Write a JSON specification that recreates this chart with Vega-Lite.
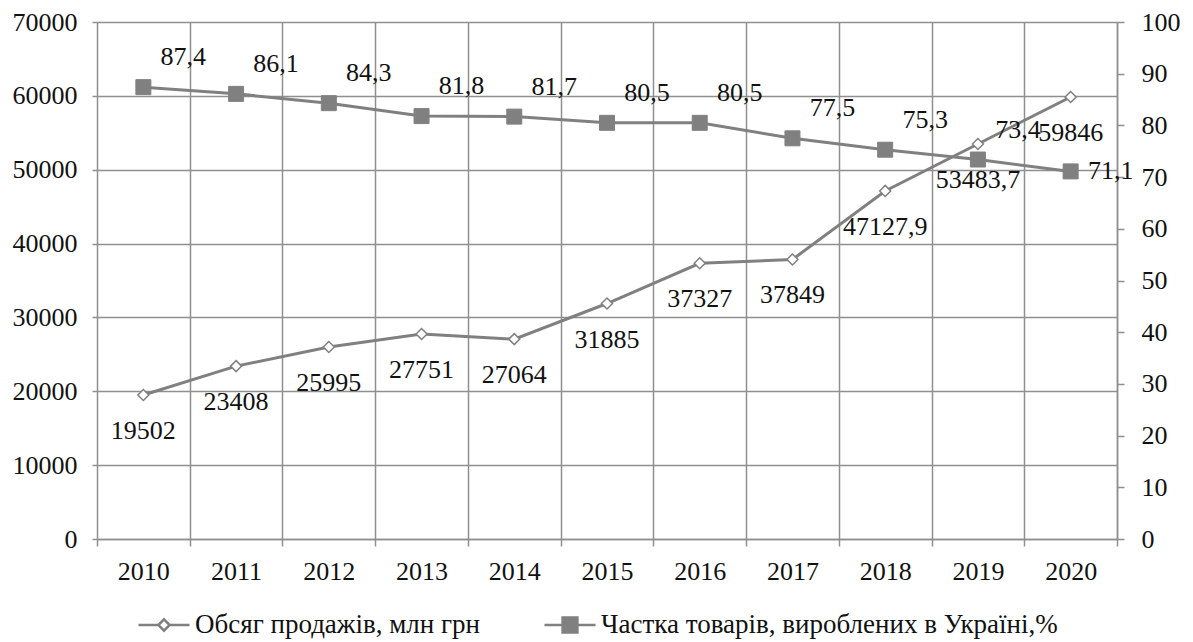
{
  "$schema": "https://vega.github.io/schema/vega-lite/v6.json",
  "width": 1020,
  "height": 517,
  "autosize": "none",
  "padding": {"left": 97, "top": 22, "right": 76, "bottom": 103},
  "background": "white",
  "config": {
    "locale": {"number": {"decimal": ",", "thousands": "", "grouping": [3], "currency": ["", ""]}},
    "view": {"stroke": null},
    "font": "Liberation Serif",
    "axis": {
      "labelFont": "Liberation Serif",
      "labelFontSize": 26,
      "labelColor": "#111111",
      "gridColor": "#8f8f8f",
      "gridWidth": 1.5,
      "domainColor": "#8f8f8f",
      "domainWidth": 1.5,
      "tickColor": "#8f8f8f",
      "tickWidth": 1.5,
      "title": null
    },
    "legend": {
      "title": null,
      "orient": "none",
      "legendX": 40,
      "legendY": 576,
      "direction": "horizontal",
      "columns": 2,
      "columnPadding": 58,
      "labelFont": "Liberation Serif",
      "labelFontSize": 27,
      "labelColor": "#111111",
      "labelLimit": 800,
      "labelOffset": 4,
      "symbolSize": 2601,
      "symbolStrokeWidth": 2.5,
      "symbolOpacity": 1
    }
  },
  "data": {
    "values": [
      {"year": "2010", "series": "Обсяг продажів, млн грн", "value": 19502},
      {"year": "2011", "series": "Обсяг продажів, млн грн", "value": 23408},
      {"year": "2012", "series": "Обсяг продажів, млн грн", "value": 25995},
      {"year": "2013", "series": "Обсяг продажів, млн грн", "value": 27751},
      {"year": "2014", "series": "Обсяг продажів, млн грн", "value": 27064},
      {"year": "2015", "series": "Обсяг продажів, млн грн", "value": 31885},
      {"year": "2016", "series": "Обсяг продажів, млн грн", "value": 37327},
      {"year": "2017", "series": "Обсяг продажів, млн грн", "value": 37849},
      {"year": "2018", "series": "Обсяг продажів, млн грн", "value": 47127.9},
      {"year": "2019", "series": "Обсяг продажів, млн грн", "value": 53483.7},
      {"year": "2020", "series": "Обсяг продажів, млн грн", "value": 59846},
      {"year": "2010", "series": "Частка товарів, вироблених в Україні,%", "value": 87.4},
      {"year": "2011", "series": "Частка товарів, вироблених в Україні,%", "value": 86.1},
      {"year": "2012", "series": "Частка товарів, вироблених в Україні,%", "value": 84.3},
      {"year": "2013", "series": "Частка товарів, вироблених в Україні,%", "value": 81.8},
      {"year": "2014", "series": "Частка товарів, вироблених в Україні,%", "value": 81.7},
      {"year": "2015", "series": "Частка товарів, вироблених в Україні,%", "value": 80.5},
      {"year": "2016", "series": "Частка товарів, вироблених в Україні,%", "value": 80.5},
      {"year": "2017", "series": "Частка товарів, вироблених в Україні,%", "value": 77.5},
      {"year": "2018", "series": "Частка товарів, вироблених в Україні,%", "value": 75.3},
      {"year": "2019", "series": "Частка товарів, вироблених в Україні,%", "value": 73.4},
      {"year": "2020", "series": "Частка товарів, вироблених в Україні,%", "value": 71.1}
    ]
  },
  "encoding": {
    "x": {
      "field": "year",
      "type": "ordinal",
      "scale": {"type": "band", "paddingInner": 0, "paddingOuter": 0},
      "axis": {"title": null, "labelAngle": 0, "grid": true, "tickBand": "extent", "tickSize": 7, "labelPadding": 12, "domain": true}
    }
  },
  "layer": [
    {
      "transform": [{"filter": {"field": "series", "equal": "Обсяг продажів, млн грн"}}],
      "encoding": {
        "y": {
          "field": "value",
          "type": "quantitative",
          "scale": {"domain": [0, 70000], "nice": false},
          "axis": {"title": null, "orient": "left", "values": [0, 10000, 20000, 30000, 40000, 50000, 60000, 70000], "format": "d", "grid": true, "domain": false, "tickSize": 5, "labelPadding": 15}
        }
      },
      "layer": [
        {"mark": {"type": "line", "color": "#808080", "strokeWidth": 3}, "encoding": {}},
        {
          "mark": {"type": "point", "shape": "diamond", "filled": true, "size": 121, "fill": "#ffffff", "stroke": "#808080", "strokeWidth": 1.5, "opacity": 1},
          "encoding": {}
        },
        {
          "mark": {"type": "text", "dy": 36, "fontSize": 26, "font": "Liberation Serif", "color": "#111111"},
          "encoding": {"text": {"field": "value", "type": "quantitative", "format": "~f"}}
        }
      ]
    },
    {
      "transform": [{"filter": {"field": "series", "equal": "Частка товарів, вироблених в Україні,%"}}],
      "encoding": {
        "y": {
          "field": "value",
          "type": "quantitative",
          "scale": {"domain": [0, 100], "nice": false},
          "axis": {"title": null, "orient": "right", "values": [0, 10, 20, 30, 40, 50, 60, 70, 80, 90, 100], "format": "d", "grid": false, "domain": true, "tickSize": 7, "labelPadding": 17}
        }
      },
      "layer": [
        {"mark": {"type": "line", "color": "#808080", "strokeWidth": 3}, "encoding": {}},
        {
          "mark": {"type": "point", "shape": "square", "filled": true, "size": 225, "fill": "#808080", "stroke": "#808080", "strokeWidth": 1, "opacity": 1},
          "encoding": {}
        },
        {
          "transform": [{"filter": "datum.year !== '2020'"}],
          "mark": {"type": "text", "dx": 40, "dy": -30, "fontSize": 26, "font": "Liberation Serif", "color": "#111111"},
          "encoding": {"text": {"field": "value", "type": "quantitative", "format": ".1f"}}
        },
        {
          "transform": [{"filter": "datum.year === '2020'"}],
          "mark": {"type": "text", "dx": 40, "dy": 0, "fontSize": 26, "font": "Liberation Serif", "color": "#111111"},
          "encoding": {"text": {"field": "value", "type": "quantitative", "format": ".1f"}}
        }
      ]
    },
    {
      "mark": {"type": "point", "filled": true, "stroke": "#808080", "strokeWidth": 2.5, "opacity": 0},
      "encoding": {
        "x": {"field": "year", "type": "ordinal"},
        "shape": {
          "field": "series",
          "type": "nominal",
          "scale": {
            "domain": ["Обсяг продажів, млн грн", "Частка товарів, вироблених в Україні,%"],
            "range": ["M-1,0H-0.22M0.22,0H1M-0.22,0L0,-0.22L0.22,0L0,0.22Z", "M-1,0H1M-0.29,-0.29H0.29V0.29H-0.29Z"]
          },
          "legend": {"encode": {"symbols": {"stroke": {"value": "#808080"}, "strokeWidth": {"value": 2.5}}}}
        },
        "fill": {
          "field": "series",
          "type": "nominal",
          "scale": {
            "domain": ["Обсяг продажів, млн грн", "Частка товарів, вироблених в Україні,%"],
            "range": ["#ffffff", "#808080"]
          }
        }
      }
    }
  ],
  "resolve": {"scale": {"y": "independent"}}
}
